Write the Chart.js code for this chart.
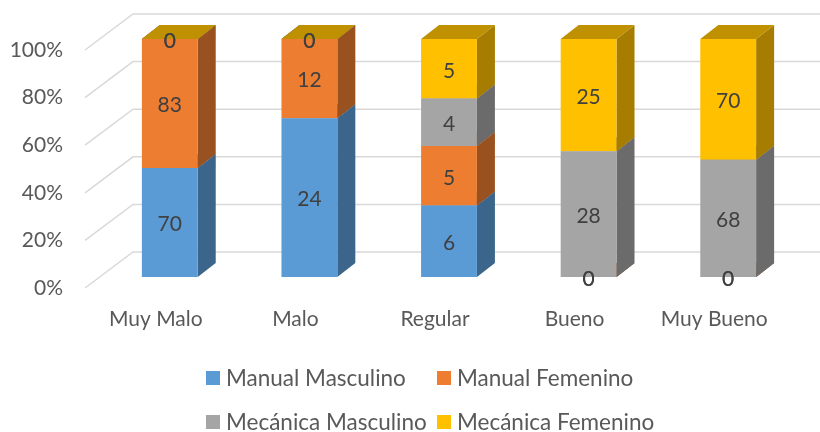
<!DOCTYPE html>
<html lang="es">
<head>
<meta charset="utf-8">
<title>Valoración por grupo</title>
<script src="https://cdn.jsdelivr.net/npm/chart.js@4.4.1/dist/chart.umd.min.js"></script>
<style>
  html, body { margin: 0; padding: 0; background: #ffffff; }
  #cadre { width: 820px; height: 432px; }
</style>
</head>
<body>
<div id="cadre"><canvas id="grafico" width="820" height="432"></canvas></div>
<script>
// Donnees
const categorias = ["Muy Malo", "Malo", "Regular", "Bueno", "Muy Bueno"];
const manualMasculino = [70, 24, 6, 0, 0];
const manualFemenino = [83, 12, 5, 0, 0];
const mecanicaMasculino = [0, 0, 4, 28, 68];
const mecanicaFemenino = [0, 0, 5, 25, 70];
const series = ["Manual Masculino", "Manual Femenino", "Mecánica Masculino", "Mecánica Femenino"];
const ticksY = [0, 20, 40, 60, 80, 100];

const colores = ["#5b9bd5", "#ed7d31", "#a5a5a5", "#ffc000"];
const POLICE = "Lato, 'Liberation Sans', sans-serif";
const GRIS_TEXTE = "#595959";

// Effet 3D : decalage de la profondeur des colonnes et du mur du fond
const PROF_X = 18, PROF_Y = 14;
const MUR_X = 33, MUR_Y = 25, SOL_X = 15, SOL_Y = 11;

const valores = [manualMasculino, manualFemenino, mecanicaMasculino, mecanicaFemenino];
const totales = categorias.map((_, i) => valores.reduce((s, v) => s + v[i], 0));
const enPourcent = v => v.map((x, i) => x / totales[i] * 100);

function assombrir(hex, f) {
  const n = parseInt(hex.slice(1), 16);
  const r = Math.round(((n >> 16) & 255) * f);
  const g = Math.round(((n >> 8) & 255) * f);
  const b = Math.round((n & 255) * f);
  return `rgb(${r},${g},${b})`;
}

function polygone(ctx, pts, couleur) {
  ctx.beginPath();
  ctx.moveTo(pts[0][0], pts[0][1]);
  for (const p of pts.slice(1)) ctx.lineTo(p[0], p[1]);
  ctx.closePath();
  ctx.fillStyle = couleur;
  ctx.fill();
}

// ---------- Grille en perspective + faces laterales / dessus ----------
const decor3d = {
  id: "decor3d",
  beforeDatasetsDraw(chart) {
    const ctx = chart.ctx;
    const { left } = chart.chartArea;
    const y = chart.scales.y;
    ctx.save();
    ctx.strokeStyle = "#d9d9d9";
    ctx.lineWidth = 1.5;
    for (const t of y.ticks) {
      const py = y.getPixelForValue(t.value);
      ctx.beginPath();
      ctx.moveTo(left - SOL_X, py + SOL_Y);
      ctx.lineTo(left + MUR_X, py - MUR_Y);
      ctx.lineTo(chart.width, py - MUR_Y);
      ctx.stroke();
    }
    // segments du bas vers le haut pour que les dessus se recouvrent bien
    categorias.forEach((_, i) => {
      chart.data.datasets.forEach((ds, k) => {
        const b = chart.getDatasetMeta(k).data[i].getProps(["x", "y", "base", "width"], true);
        const x0 = b.x - b.width / 2, x1 = b.x + b.width / 2;
        polygone(ctx, [[x1, b.y], [x1 + PROF_X, b.y - PROF_Y], [x1 + PROF_X, b.base - PROF_Y], [x1, b.base]],
          assombrir(colores[k], 0.65));
        polygone(ctx, [[x0, b.y], [x1, b.y], [x1 + PROF_X, b.y - PROF_Y], [x0 + PROF_X, b.y - PROF_Y]],
          assombrir(colores[k], 0.75));
      });
    });
    ctx.restore();
  },
  afterDatasetsDraw(chart) {
    const ctx = chart.ctx;
    ctx.save();
    ctx.font = `21px ${POLICE}`;
    ctx.fillStyle = "#404040";
    ctx.textAlign = "center";
    ctx.textBaseline = "middle";
    chart.data.datasets.forEach((ds, k) => {
      chart.getDatasetMeta(k).data.forEach((b, i) => {
        ctx.fillText(String(ds.brut[i]), b.x, (b.y + b.base) / 2 + 2);
      });
    });
    ctx.restore();
  },
  afterDraw(chart) {
    // Legende sur deux lignes, alignee a gauche comme dans Excel
    const ctx = chart.ctx;
    const lignes = [[0, 1], [2, 3]];
    const xColonnes = [206, 437];
    const yLignes = [378, 422];
    ctx.save();
    ctx.font = `22.5px ${POLICE}`;
    ctx.textBaseline = "middle";
    ctx.textAlign = "left";
    lignes.forEach((ligne, r) => {
      ligne.forEach((k, c) => {
        const x = xColonnes[c];
        ctx.fillStyle = colores[k];
        ctx.fillRect(x, yLignes[r] - 7, 14, 14);
        ctx.fillStyle = GRIS_TEXTE;
        ctx.fillText(series[k], x + 20, yLignes[r] + 1);
      });
    });
    ctx.restore();
  }
};

new Chart(document.getElementById("grafico"), {
  type: "bar",
  data: {
    labels: categorias,
    datasets: series.map((nom, k) => ({
      label: nom,
      data: enPourcent(valores[k]),
      brut: valores[k],
      backgroundColor: colores[k],
      borderWidth: 0,
      categoryPercentage: 0.5,
      barPercentage: 0.8
    }))
  },
  options: {
    responsive: false,
    animation: false,
    layout: { padding: { top: 39, right: 22, bottom: 95, left: 0 } },
    plugins: { legend: { display: false }, tooltip: { enabled: false } },
    scales: {
      x: {
        stacked: true,
        grid: { display: false, drawTicks: false },
        border: { display: false },
        ticks: { color: GRIS_TEXTE, font: { family: POLICE, size: 21 }, padding: 30, labelOffset: -14 },
        afterFit: s => { s.height = 60; s.paddingLeft = 0; s.paddingRight = 0; }
      },
      y: {
        stacked: true,
        min: 0,
        max: 100,
        afterBuildTicks: s => { s.ticks = ticksY.map(v => ({ value: v })); },
        grid: { display: false, drawTicks: false },
        border: { display: false },
        ticks: { color: GRIS_TEXTE, font: { family: POLICE, size: 21 }, padding: 37, labelOffset: 11,
          callback: v => v + "%" },
        afterFit: s => { s.width = 100; s.paddingTop = 0; s.paddingBottom = 0; }
      }
    }
  },
  plugins: [decor3d]
});
</script>
</body>
</html>
